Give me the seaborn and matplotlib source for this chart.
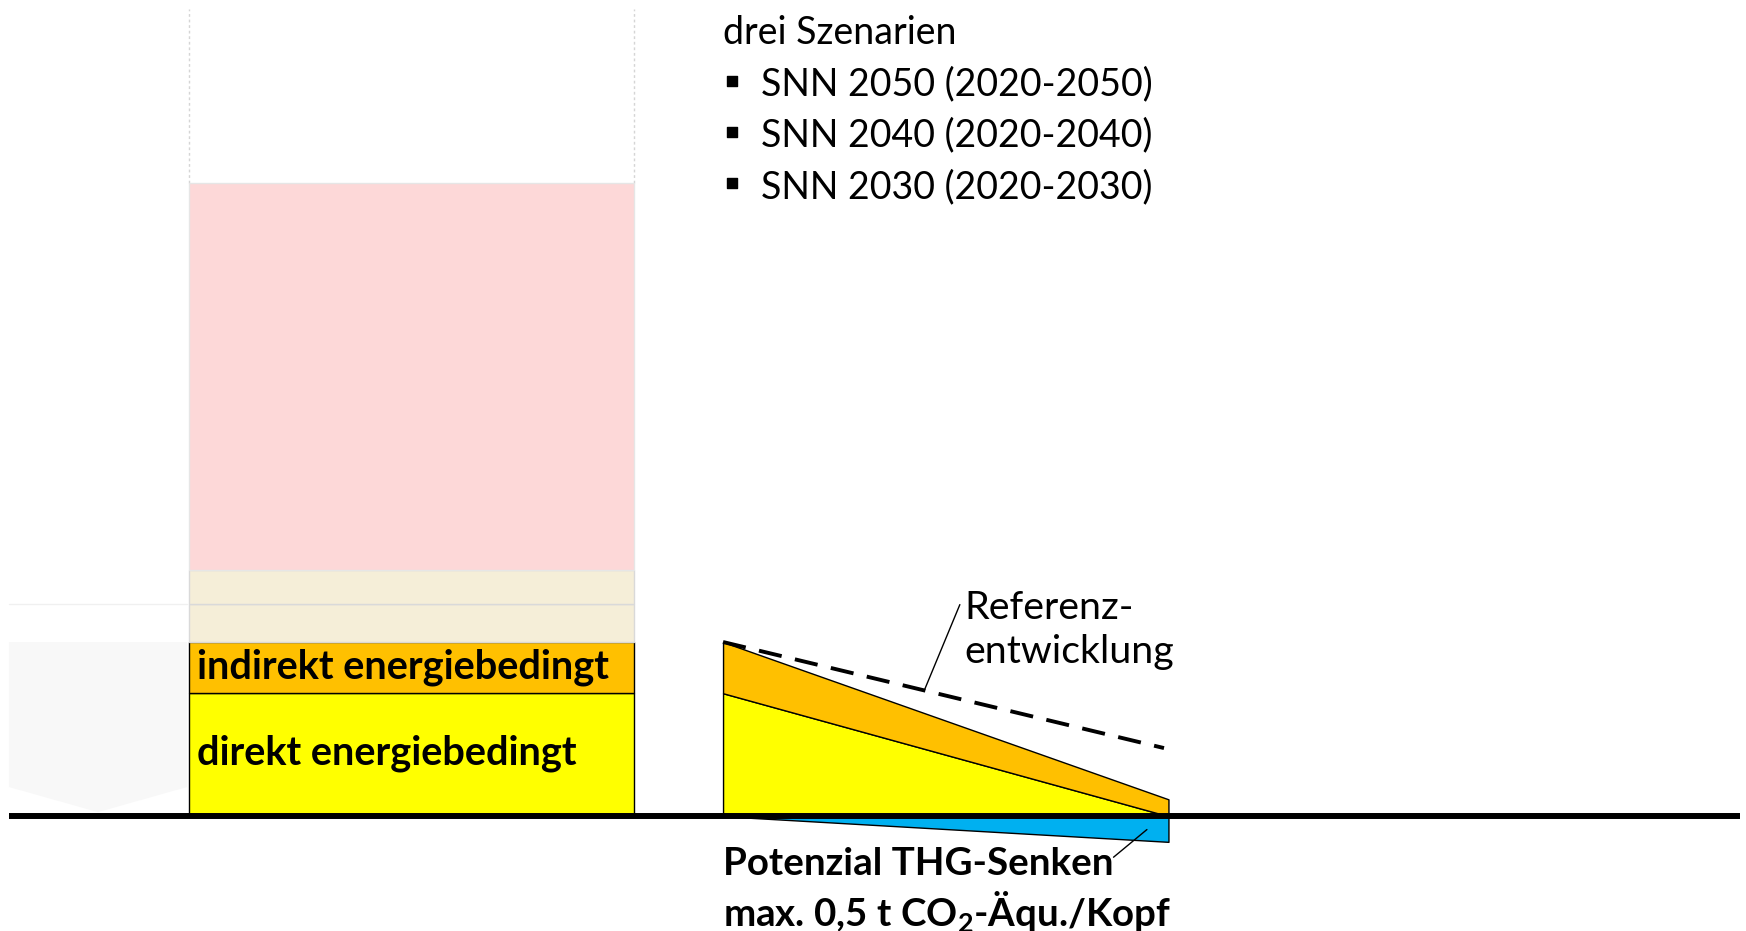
import matplotlib
matplotlib.use("Agg")
import matplotlib.pyplot as plt
import seaborn as sns
import numpy as np
import pandas as pd

# -------------------------------
# Daten (t CO2-Äqu. pro Kopf)
# -------------------------------
bar_year = 1999
bar_width = 30
bar_segments = ["direkt energiebedingt", "indirekt energiebedingt", "sonstige 1", "sonstige 2", "nicht energiebedingt"]
bar_values = [2.4, 1.0, 0.75, 0.65, 7.55]
bar_colors = ["#ffff00", "#ffc000", "#f5eed8", "#f5eed8", "#fdd8d8"]
bar_edges = ["black", "black", "#d9d9d9", "#d9d9d9", "#e6e6e6"]

years = [2020, 2050]
direkt = [2.4, 0.0]
indirekt = [1.0, 0.33]
senken = [0.0, -0.5]
referenz = [3.4, 1.33]
referenz_years = [2020, 2049.7]

szenarien = ["SNN 2050 (2020-2050)", "SNN 2040 (2020-2040)", "SNN 2030 (2020-2030)"]

sns.set_theme(style="white")
plt.rcParams["font.family"] = ["Lato", "DejaVu Sans"]
plt.rcParams["text.color"] = "black"
plt.rcParams["mathtext.fontset"] = "custom"
plt.rcParams["mathtext.rm"] = "Lato:bold"
plt.rcParams["mathtext.default"] = "rm"

fig = plt.figure(figsize=(17.46, 9.31), dpi=100)
ax = fig.add_axes([0, 0, 1, 1])
ax.set_xlim(1971.3, 2088.9)
ax.set_ylim(-2.24, 15.93)
ax.axis("off")

# -------------------------------
# blasser Pfeil links
# -------------------------------
ax.fill([1971.9, 1983.9, 1983.9, 1977.9, 1971.9], [3.4, 3.4, 0.57, 0.08, 0.57],
        color="#f8f8f8", lw=0, zorder=0)
ax.plot([1971.9, 1983.9], [4.15, 4.15], color="#f0f0f0", lw=1, zorder=0)

# -------------------------------
# gestapelter Balken
# -------------------------------
bottoms = np.concatenate([[0], np.cumsum(bar_values)[:-1]])
for val, bot, col, ec in zip(bar_values, bottoms, bar_colors, bar_edges):
    ax.bar(bar_year, val, bottom=bot, width=bar_width, color=col,
           edgecolor=ec, linewidth=1, zorder=2)
top = sum(bar_values)
for xe in [bar_year - bar_width / 2, bar_year + bar_width / 2]:
    ax.plot([xe, xe], [top, 15.76], color="#d5d5d5", lw=1, ls=(0, (2, 2)), zorder=1)

ax.text(bar_year - bar_width / 2 + 0.6, bar_values[0] + bar_values[1] / 2, "indirekt energiebedingt",
        fontsize=28.6, fontweight="bold", va="center", ha="left", zorder=3)
ax.text(bar_year - bar_width / 2 + 0.6, 1.22, "direkt energiebedingt",
        fontsize=28.6, fontweight="bold", va="center", ha="left", zorder=3)

# -------------------------------
# Szenario-Keil
# -------------------------------
upper = np.array(direkt) + np.array(indirekt)
ax.fill_between(years, 0, direkt, color="#ffff00", edgecolor="black", lw=1, zorder=2)
ax.fill_between(years, direkt, upper, color="#ffc000", edgecolor="black", lw=1, zorder=2)
ax.fill_between(years, senken, 0, color="#00b0f0", edgecolor="black", lw=1, zorder=2)

ref = pd.DataFrame({"Jahr": referenz_years, "Wert": referenz})
sns.lineplot(data=ref, x="Jahr", y="Wert", ax=ax, color="black", lw=2.8,
             dashes=False, zorder=4)
ax.lines[-1].set_dashes((6, 3.5))

# Nulllinie
ax.plot([1971.9, 2088.5], [0, 0], color="black", lw=4.3, solid_capstyle="butt", zorder=5)

# -------------------------------
# Beschriftungen
# -------------------------------
ax.plot([2035.95, 2033.56], [4.13, 2.46], color="black", lw=1, zorder=4)
ax.text(2036.25, 4.07, "Referenz-", fontsize=28.4, va="center", ha="left")
ax.text(2036.25, 3.2, "entwicklung", fontsize=28.4, va="center", ha="left")

ax.plot([2048.55, 2046.3], [-0.26, -0.80], color="black", lw=1, zorder=6)
ax.text(2020, -0.93, "Potenzial THG-Senken", fontsize=27.7, fontweight="bold", va="center", ha="left")
ax.text(2020, -1.85, r"max. 0,5 t CO$_2$-Äqu./Kopf", fontsize=27.7, fontweight="bold",
        va="center", ha="left")

ax.text(2020, 15.28, "drei Szenarien", fontsize=27, va="center", ha="left")
for i, s in enumerate(szenarien):
    yy = 14.28 - i
    ax.scatter([2020.6], [yy + 0.07], marker="s", s=55, color="black", zorder=5)
    ax.text(2022.55, yy, s, fontsize=27, va="center", ha="left")

fig.savefig("out.png", dpi=100)
